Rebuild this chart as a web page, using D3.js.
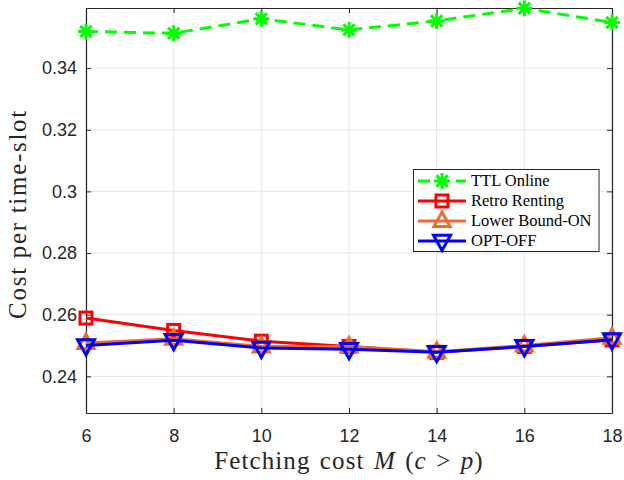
<!DOCTYPE html>
<html><head><meta charset="utf-8">
<script src="https://cdn.jsdelivr.net/npm/d3@7"></script>
<style>body{margin:0;background:#fff}</style>
</head><body>
<script>
const xValues = [6, 8, 10, 12, 14, 16, 18];
const ttlOnline = [0.3519, 0.3513, 0.3560, 0.3524, 0.3553, 0.3594, 0.3548];
const retroRenting = [0.2589, 0.2549, 0.2514, 0.2497, 0.2478, 0.2497, 0.2518];
const lowerBoundON = [0.2508, 0.2522, 0.2497, 0.2497, 0.2480, 0.2500, 0.2525];
const optOFF = [0.2500, 0.2517, 0.2492, 0.2488, 0.2478, 0.2497, 0.2519];
const xTicks = [6, 8, 10, 12, 14, 16, 18];
const yTicks = [0.24, 0.26, 0.28, 0.30, 0.32, 0.34];
const seriesNames = ["TTL Online", "Retro Renting", "Lower Bound-ON", "OPT-OFF"];

const W = 624, H = 480;
const m = {l: 86, r: 12, t: 8, b: 67};
const svg = d3.select("body").append("svg").attr("width", W).attr("height", H);
const x = d3.scaleLinear().domain([6, 18]).range([m.l, W - m.r]);
const y = d3.scaleLinear().domain([0.2281, 0.3595]).range([H - m.b, m.t]);
const axisColor = "#262626";

// grid
const g = svg.append("g");
g.selectAll(".vg").data(xTicks).enter().append("line")
  .attr("x1", d => x(d)).attr("x2", d => x(d)).attr("y1", m.t).attr("y2", H - m.b)
  .attr("stroke", "#e6e6e6").attr("stroke-width", 1);
g.selectAll(".hg").data(yTicks).enter().append("line")
  .attr("y1", d => y(d)).attr("y2", d => y(d)).attr("x1", m.l).attr("x2", W - m.r)
  .attr("stroke", "#e6e6e6").attr("stroke-width", 1);

// axes
const fmtY = d => d3.format(".2f")(d).replace(/0$/, "");
const ax = svg.append("g").attr("transform", `translate(0,${H - m.b})`)
  .call(d3.axisBottom(x).tickValues(xTicks).tickSizeInner(-5).tickSizeOuter(0).tickPadding(16));
const ay = svg.append("g").attr("transform", `translate(${m.l},0)`)
  .call(d3.axisLeft(y).tickValues(yTicks).tickFormat(fmtY).tickSizeInner(-5).tickSizeOuter(0).tickPadding(9));
const axT = svg.append("g").attr("transform", `translate(0,${m.t})`)
  .call(d3.axisTop(x).tickValues(xTicks).tickSizeInner(-5).tickSizeOuter(0).tickFormat(""));
const ayR = svg.append("g").attr("transform", `translate(${W - m.r},0)`)
  .call(d3.axisRight(y).tickValues(yTicks).tickSizeInner(-5).tickSizeOuter(0).tickFormat(""));
[ax, ay, axT, ayR].forEach(a => {
  a.selectAll("path").attr("stroke", axisColor).attr("stroke-width", 1.2);
  a.selectAll("line").attr("stroke", axisColor);
  a.selectAll("text").attr("fill", axisColor).style("font-family", "Liberation Sans, Arial, sans-serif").style("font-size", "18px");
});

// series
const line = d3.line().x((d, i) => x(xValues[i])).y(d => y(d));
function asterisk(sel, cx, cy, r, color) {
  const gg = sel.append("g").attr("transform", `translate(${cx},${cy})`);
  [0, 45, 90, 135].forEach(a => {
    const rad = a * Math.PI / 180;
    gg.append("line").attr("x1", -r * Math.cos(rad)).attr("y1", -r * Math.sin(rad))
      .attr("x2", r * Math.cos(rad)).attr("y2", r * Math.sin(rad))
      .attr("stroke", color).attr("stroke-width", 3);
  });
}
function square(sel, cx, cy, s, color) {
  sel.append("rect").attr("x", cx - s / 2).attr("y", cy - s / 2).attr("width", s).attr("height", s)
    .attr("fill", "none").attr("stroke", color).attr("stroke-width", 3);
}
function triUp(sel, cx, cy, s, color) {
  const h = s * 0.9;
  sel.append("path").attr("d", `M${cx},${cy - h * 0.62}L${cx + s / 2},${cy + h * 0.38}L${cx - s / 2},${cy + h * 0.38}Z`)
    .attr("fill", "none").attr("stroke", color).attr("stroke-width", 3).attr("stroke-linejoin", "miter");
}
function triDown(sel, cx, cy, s, color) {
  const h = s * 0.9;
  sel.append("path").attr("d", `M${cx},${cy + h * 0.62}L${cx + s / 2},${cy - h * 0.38}L${cx - s / 2},${cy - h * 0.38}Z`)
    .attr("fill", "none").attr("stroke", color).attr("stroke-width", 3).attr("stroke-linejoin", "miter");
}
const series = [
  {name: seriesNames[0], data: ttlOnline, color: "#00ff00", dash: "12,7", marker: (s, cx, cy) => asterisk(s, cx, cy, 8, "#00ff00")},
  {name: seriesNames[1], data: retroRenting, color: "#ff0000", dash: null, marker: (s, cx, cy) => square(s, cx, cy, 12, "#ff0000")},
  {name: seriesNames[2], data: lowerBoundON, color: "#ee6a30", dash: null, marker: (s, cx, cy) => triUp(s, cx, cy, 16, "#ee6a30")},
  {name: seriesNames[3], data: optOFF, color: "#0000ff", dash: null, marker: (s, cx, cy) => triDown(s, cx, cy, 17, "#0000ff")}
];
const plot = svg.append("g");
series.forEach(s => {
  plot.append("path").datum(s.data).attr("d", line).attr("fill", "none")
    .attr("stroke", s.color).attr("stroke-width", 3)
    .attr("stroke-dasharray", s.dash);
  s.data.forEach((v, i) => s.marker(plot, x(xValues[i]), y(v)));
});

// legend
const lg = svg.append("g");
lg.append("rect").attr("x", 413.5).attr("y", 169.5).attr("width", 185.5).attr("height", 82)
  .attr("fill", "#fff").attr("stroke", axisColor).attr("stroke-width", 1);
series.forEach((s, i) => {
  const cy = 181 + i * 20;
  lg.append("line").attr("x1", 418).attr("x2", 466).attr("y1", cy).attr("y2", cy)
    .attr("stroke", s.color).attr("stroke-width", 3).attr("stroke-dasharray", s.dash);
  s.marker(lg, 442, cy);
  lg.append("text").attr("x", 471).attr("y", cy + 5).text(s.name)
    .style("font-family", "Liberation Serif, serif").style("font-size", "16.5px").attr("fill", "#000");
});

// axis labels
svg.append("text").attr("transform", `translate(26,214) rotate(-90)`)
  .attr("text-anchor", "middle").style("font-family", "Liberation Serif, serif").style("font-size", "25px")
  .style("letter-spacing", "1.7px")
  .attr("fill", axisColor).text("Cost per time-slot");
const xl = svg.append("text").attr("x", 349).attr("y", 469)
  .attr("text-anchor", "middle").style("font-family", "Liberation Serif, serif").style("font-size", "25px")
  .style("letter-spacing", "1.1px").style("word-spacing", "2px")
  .attr("fill", axisColor);
xl.append("tspan").text("Fetching cost ");
xl.append("tspan").style("font-style", "italic").text("M");
xl.append("tspan").text("  (");
xl.append("tspan").style("font-style", "italic").text("c");
xl.append("tspan").text(" > ");
xl.append("tspan").style("font-style", "italic").text("p");
xl.append("tspan").text(")");
</script>
</body></html>
